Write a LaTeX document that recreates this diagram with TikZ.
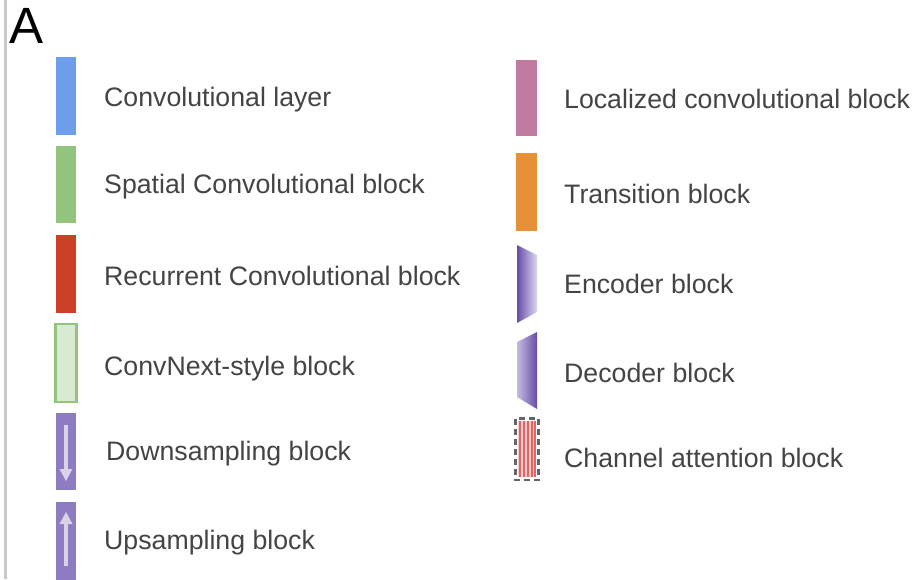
\documentclass[tikz,border=0pt]{standalone}
\usepackage{fontspec}
\setmainfont{Liberation Sans}
\definecolor{txtgray}{HTML}{444444}
\definecolor{linegray}{HTML}{C8C8C8}
\definecolor{convblue}{HTML}{6D9EEB}
\definecolor{spgreen}{HTML}{93C47D}
\definecolor{recred}{HTML}{CC4125}
\definecolor{cnfill}{HTML}{D9EAD3}
\definecolor{purp}{HTML}{8E7CC3}
\definecolor{lav}{HTML}{D9D2E9}
\definecolor{locpink}{HTML}{C27BA0}
\definecolor{transorange}{HTML}{E69138}
\definecolor{encdark}{HTML}{674EA7}
\definecolor{enclight}{HTML}{DDD6EE}
\definecolor{capink}{HTML}{F4CCCC}
\definecolor{cared}{HTML}{E06666}
\definecolor{dashgray}{HTML}{666666}
\begin{document}
\begin{tikzpicture}[x=1pt,y=-1pt,
  lbl/.style={anchor=base west, inner sep=0pt, text=txtgray, font=\fontsize{26.7}{30}\selectfont},
  arrowline/.style={draw=lav, line width=3.5pt},
  stripe/.style={draw=cared, line width=1.8pt},
]
\useasboundingbox (0,0) rectangle (918,579);
\fill[white] (0,0) rectangle (918,579);
\draw[line width=3pt, linegray] (5,0) -- (5,579);
\node[anchor=base west, inner sep=0pt, font=\fontsize{51}{56}\selectfont] (title) at (9,43) {A};

% left column icons
\fill[convblue] (56,57) rectangle (76,135);
\fill[spgreen] (56,146) rectangle (76,223);
\fill[recred] (56,235) rectangle (76,313);
\draw[spgreen, fill=cnfill, line width=2.5pt] (55.5,324) rectangle (76.5,402);
\fill[purp] (56,413) rectangle (76,490);
\draw[arrowline] (66,425) -- (66,471);
\fill[lav] (59.5,469) -- (72.5,469) -- (66,481) -- cycle;
\fill[purp] (56,502) rectangle (76,580);
\fill[lav] (59.5,524) -- (72.5,524) -- (66,512) -- cycle;
\draw[arrowline] (66,522) -- (66,566);

% left column labels
\node[lbl] (l1) at (104,106) {Convolutional layer};
\node[lbl] (l2) at (104,193) {Spatial Convolutional block};
\node[lbl] (l3) at (104,285) {Recurrent Convolutional block};
\node[lbl] (l4) at (104,375) {ConvNext-style block};
\node[lbl] (l5) at (106,460) {Downsampling block};
\node[lbl] (l6) at (104,549) {Upsampling block};

% right column icons
\fill[locpink] (516,60) rectangle (537,136);
\fill[transorange] (516,153) rectangle (537,231);
\shade[left color=encdark, right color=enclight] (517,245) -- (537,255) -- (537,312) -- (517,323) -- cycle;
\shade[left color=enclight!80!encdark, right color=encdark] (517,342) -- (537,332) -- (537,409) -- (517,397) -- cycle;
\fill[capink] (518,421) rectangle (536,477);
\foreach \sx in {520,524,528,532,535}{\draw[stripe] (\sx,421) -- (\sx,477);}
\draw[dashgray, line width=2.2pt, dash pattern=on 6pt off 4pt] (515.5,418.5) rectangle (538.5,480);

% right column labels
\node[lbl] (r1) at (564,108) {Localized convolutional block};
\node[lbl] (r2) at (564,203) {Transition block};
\node[lbl] (r3) at (564,293) {Encoder block};
\node[lbl] (r4) at (564,382) {Decoder block};
\node[lbl] (r5) at (564,467) {Channel attention block};
\end{tikzpicture}
\end{document}
